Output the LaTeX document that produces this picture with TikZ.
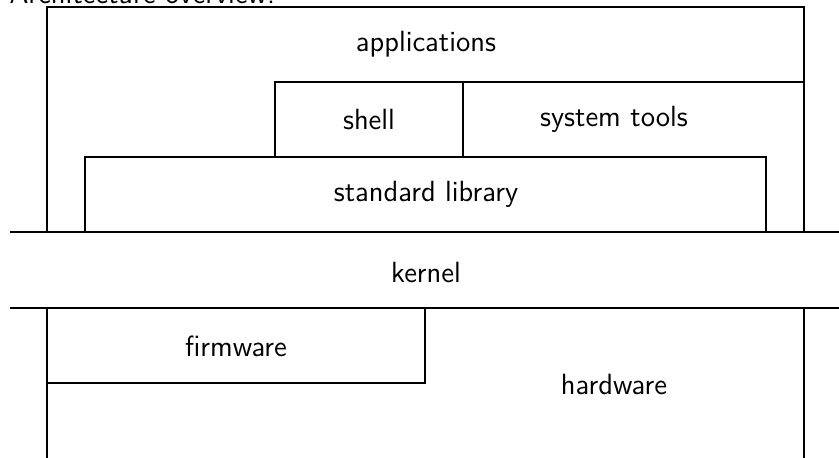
\documentclass[tikz,border=0pt]{standalone}
\usetikzlibrary{positioning}

\tikzset{
  layer/.style={draw, semithick},
  sep/.style={draw, thick},
  lbl/.style={inner sep=0pt, font=\fontsize{11.7pt}{14pt}\sffamily}
}

\begin{document}
\begin{tikzpicture}[x=0.4pt, y=-0.4pt]
    \useasboundingbox (0,0) rectangle (839,458);
    \clip (0,0) rectangle (839,458);

    % title
    \node[lbl, anchor=base west] (title) at (9,4) {Architecture overview:};

    % user space
    \draw[layer] (47,232) -- (47,7) -- (804,7) -- (804,232);
    \draw[layer] (275,157) -- (275,82) -- (804,82);
    \draw[layer] (463,157) -- (463,82);
    \draw[layer] (85,232) -- (85,157) -- (766,157) -- (766,232);

    \node[lbl] (apps)   at (426,44)  {applications};
    \node[lbl] (shell)  at (369,120) {shell};
    \node[lbl] (tools)  at (614,119) {system tools};
    \node[lbl] (stdlib) at (426,194) {standard library};

    % kernel
    \coordinate (k1) at (10,232);
    \coordinate (k2) at (839,232);
    \coordinate (k3) at (10,308);
    \coordinate (k4) at (839,308);
    \draw[sep] (k1) -- (k2);
    \draw[sep] (k3) -- (k4);
    \node[lbl] (kernel) at (426,272) {kernel};

    % hardware
    \draw[layer] (47,480) -- (47,308);
    \draw[layer] (804,308) -- (804,480);
    \draw[layer] (47,383) -- (425,383) -- (425,308);
    \node[lbl] (firmware) at (236,346) {firmware};
    \node[lbl] (hardware) at (614,384) {hardware};
\end{tikzpicture}
\end{document}
